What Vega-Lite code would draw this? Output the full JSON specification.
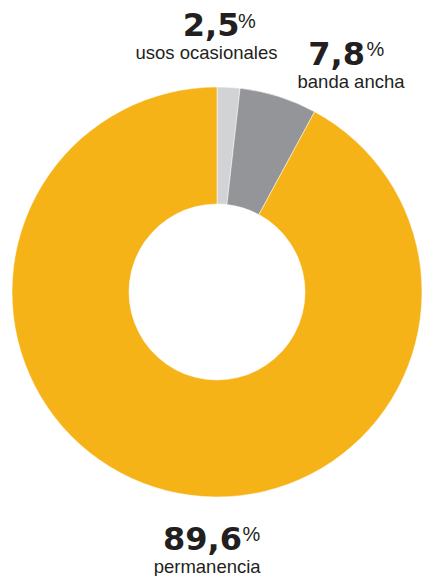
{
  "$schema": "https://vega.github.io/schema/vega-lite/v6.json",
  "width": 412,
  "height": 568,
  "autosize": "none",
  "padding": {"left": 11, "top": 8, "right": 0, "bottom": 0},
  "background": "white",
  "view": {"stroke": null},
  "data": {
    "values": [
      {"cat": "usos ocasionales", "pct": "2,5", "share": 1.8, "order": 1},
      {"cat": "banda ancha", "pct": "7,8", "share": 6.1, "order": 2},
      {"cat": "permanencia", "pct": "89,6", "share": 92.1, "order": 3}
    ]
  },
  "encoding": {
    "theta": {"field": "share", "type": "quantitative", "stack": true},
    "order": {"field": "order", "type": "quantitative"},
    "detail": {"field": "cat", "type": "nominal"}
  },
  "layer": [
    {
      "mark": {"type": "arc", "innerRadius": 88, "outerRadius": 205, "stroke": "white", "strokeWidth": 0.5},
      "encoding": {
        "color": {
          "field": "cat",
          "type": "nominal",
          "scale": {"domain": ["usos ocasionales", "banda ancha", "permanencia"], "range": ["#D1D3D4", "#939598", "#F5B317"]},
          "legend": null
        }
      }
    },
    {
      "mark": {"type": "text", "radius": 256, "align": "right", "baseline": "alphabetic", "font": "DejaVu Sans", "fontWeight": "bold", "fontSize": 32, "color": "#231F20", "dx": 8, "dy": 0},
      "encoding": {"text": {"condition": {"test": "datum.cat === 'usos ocasionales'", "field": "pct", "type": "nominal"}, "value": ""}}
    },
    {
      "mark": {"type": "text", "radius": 256, "align": "left", "baseline": "alphabetic", "font": "Liberation Sans", "fontSize": 20, "color": "#231F20", "dx": 6.5, "dy": -8.5},
      "encoding": {"text": {"condition": {"test": "datum.cat === 'usos ocasionales'", "value": "%"}, "value": ""}}
    },
    {
      "mark": {"type": "text", "radius": 256, "align": "center", "baseline": "alphabetic", "font": "Liberation Sans", "fontSize": 18.5, "color": "#231F20", "dx": -25, "dy": 22.5},
      "encoding": {"text": {"condition": {"test": "datum.cat === 'usos ocasionales'", "field": "cat", "type": "nominal"}, "value": ""}}
    },
    {
      "mark": {"type": "text", "radius": 260, "align": "right", "baseline": "alphabetic", "font": "DejaVu Sans", "fontWeight": "bold", "fontSize": 32, "color": "#231F20", "dx": 70, "dy": 21},
      "encoding": {"text": {"condition": {"test": "datum.cat === 'banda ancha'", "field": "pct", "type": "nominal"}, "value": ""}}
    },
    {
      "mark": {"type": "text", "radius": 260, "align": "left", "baseline": "alphabetic", "font": "Liberation Sans", "fontSize": 20, "color": "#231F20", "dx": 71.5, "dy": 12.5},
      "encoding": {"text": {"condition": {"test": "datum.cat === 'banda ancha'", "value": "%"}, "value": ""}}
    },
    {
      "mark": {"type": "text", "radius": 260, "align": "center", "baseline": "alphabetic", "font": "Liberation Sans", "fontSize": 18.5, "color": "#231F20", "dx": 56, "dy": 44.5},
      "encoding": {"text": {"condition": {"test": "datum.cat === 'banda ancha'", "field": "cat", "type": "nominal"}, "value": ""}}
    },
    {
      "mark": {"type": "text", "radius": 258, "align": "right", "baseline": "alphabetic", "font": "DejaVu Sans", "fontWeight": "bold", "fontSize": 32, "color": "#231F20", "dx": 88.4, "dy": 7.5},
      "encoding": {"text": {"condition": {"test": "datum.cat === 'permanencia'", "field": "pct", "type": "nominal"}, "value": ""}}
    },
    {
      "mark": {"type": "text", "radius": 258, "align": "left", "baseline": "alphabetic", "font": "Liberation Sans", "fontSize": 20, "color": "#231F20", "dx": 89, "dy": -1},
      "encoding": {"text": {"condition": {"test": "datum.cat === 'permanencia'", "value": "%"}, "value": ""}}
    },
    {
      "mark": {"type": "text", "radius": 258, "align": "center", "baseline": "alphabetic", "font": "Liberation Sans", "fontSize": 18.5, "color": "#231F20", "dx": 53.5, "dy": 31},
      "encoding": {"text": {"condition": {"test": "datum.cat === 'permanencia'", "field": "cat", "type": "nominal"}, "value": ""}}
    }
  ]
}
